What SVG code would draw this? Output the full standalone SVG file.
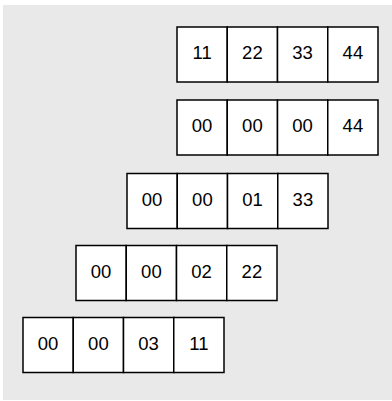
<svg xmlns="http://www.w3.org/2000/svg" width="392" height="401" viewBox="0 0 392 401">
<style>
.c{fill:#fff;stroke:#000;stroke-width:1.5}
.t{font-family:"Liberation Sans",Arial,sans-serif;font-size:18.5px;fill:#000;text-anchor:middle}
</style>
<rect x="3" y="5" width="389" height="395" fill="#e9e9e9"/>
<g id="row1" transform="translate(177,27)">
<rect class="c" x="0" y="0" width="50.25" height="55"/><rect class="c" x="50.25" y="0" width="50.25" height="55"/><rect class="c" x="100.5" y="0" width="50.25" height="55"/><rect class="c" x="150.75" y="0" width="50.25" height="55"/>
<text class="t" x="25.1" y="32.3">11</text><text class="t" x="75.4" y="32.3">22</text><text class="t" x="125.6" y="32.3">33</text><text class="t" x="175.9" y="32.3">44</text>
</g>
<g id="row2" transform="translate(177,100)">
<rect class="c" x="0" y="0" width="50.25" height="55"/><rect class="c" x="50.25" y="0" width="50.25" height="55"/><rect class="c" x="100.5" y="0" width="50.25" height="55"/><rect class="c" x="150.75" y="0" width="50.25" height="55"/>
<text class="t" x="25.1" y="32.3">00</text><text class="t" x="75.4" y="32.3">00</text><text class="t" x="125.6" y="32.3">00</text><text class="t" x="175.9" y="32.3">44</text>
</g>
<g id="row3" transform="translate(127,173.5)">
<rect class="c" x="0" y="0" width="50.25" height="55"/><rect class="c" x="50.25" y="0" width="50.25" height="55"/><rect class="c" x="100.5" y="0" width="50.25" height="55"/><rect class="c" x="150.75" y="0" width="50.25" height="55"/>
<text class="t" x="25.1" y="32.3">00</text><text class="t" x="75.4" y="32.3">00</text><text class="t" x="125.6" y="32.3">01</text><text class="t" x="175.9" y="32.3">33</text>
</g>
<g id="row4" transform="translate(76,245.5)">
<rect class="c" x="0" y="0" width="50.25" height="55"/><rect class="c" x="50.25" y="0" width="50.25" height="55"/><rect class="c" x="100.5" y="0" width="50.25" height="55"/><rect class="c" x="150.75" y="0" width="50.25" height="55"/>
<text class="t" x="25.1" y="32.3">00</text><text class="t" x="75.4" y="32.3">00</text><text class="t" x="125.6" y="32.3">02</text><text class="t" x="175.9" y="32.3">22</text>
</g>
<g id="row5" transform="translate(23,317.5)">
<rect class="c" x="0" y="0" width="50.25" height="55"/><rect class="c" x="50.25" y="0" width="50.25" height="55"/><rect class="c" x="100.5" y="0" width="50.25" height="55"/><rect class="c" x="150.75" y="0" width="50.25" height="55"/>
<text class="t" x="25.1" y="32.3">00</text><text class="t" x="75.4" y="32.3">00</text><text class="t" x="125.6" y="32.3">03</text><text class="t" x="175.9" y="32.3">11</text>
</g>
<g id="connectors"/>
</svg>
